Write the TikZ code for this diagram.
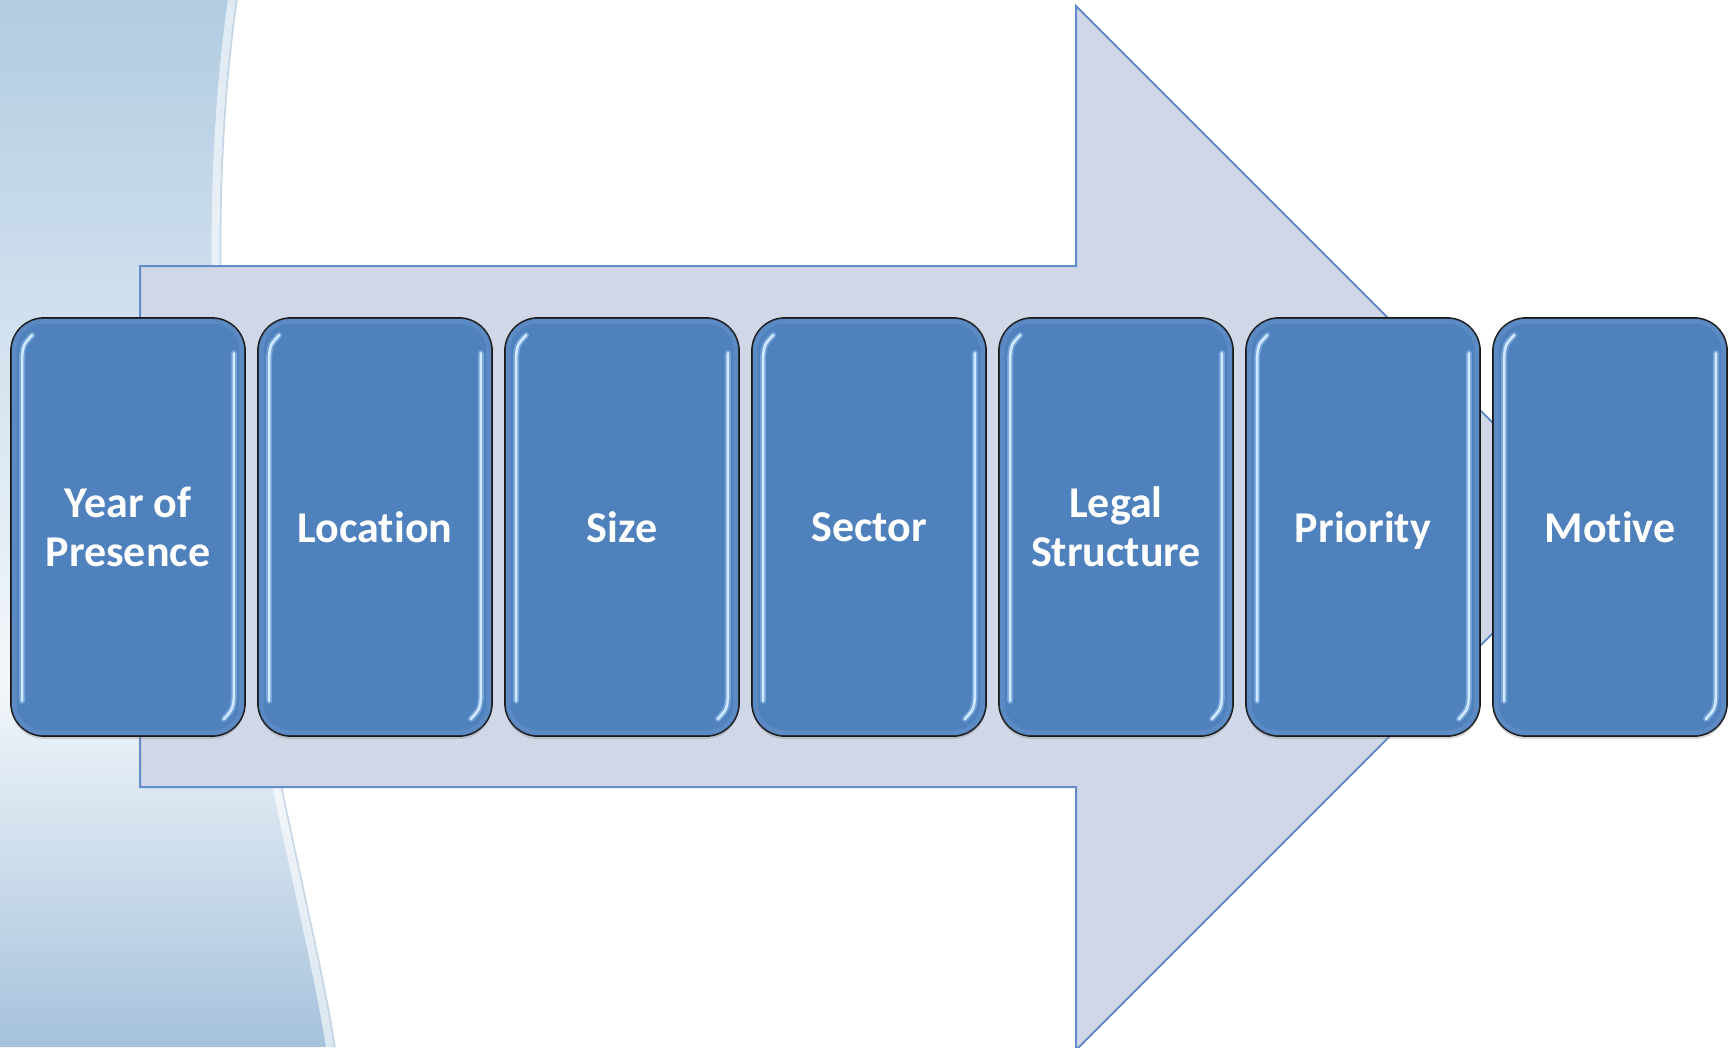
\documentclass[tikz,border=0pt]{standalone}
\usepackage{fontspec}
\setmainfont[Ligatures={NoCommon,NoRare}]{Carlito}
\usetikzlibrary{positioning,shadows}
\definecolor{stageblue}{RGB}{79,129,189}
\definecolor{stageedge}{RGB}{25,25,25}
\definecolor{glossline}{RGB}{208,234,255}
\definecolor{glossglow}{RGB}{135,178,228}
\definecolor{bevel}{RGB}{104,148,206}
\definecolor{arrowfill}{RGB}{208,216,232}
\definecolor{arrowline}{RGB}{100,140,200}
\definecolor{swtop}{RGB}{178,204,226}
\definecolor{swmid}{RGB}{243,247,250}
\definecolor{swbot}{RGB}{166,194,220}
\definecolor{swedge}{RGB}{200,215,230}
\begin{document}
\begin{tikzpicture}[x=1pt, y=-1pt, node distance=247pt,
                    stage/.style = {draw=stageedge, line width=1.8pt, fill=stageblue,
                                    rounded corners=33pt, minimum width=234pt, minimum height=418pt,
                                    text=white, align=center, text depth=0pt,
                                    font=\bfseries\fontsize{44}{49}\selectfont,
                                    drop shadow={shadow xshift=0pt, shadow yshift=-3pt, opacity=.3}},
                    gloss/.style = {draw=glossline, line width=2.5pt, line cap=round,
                                    preaction={draw=glossglow, line width=6pt, line cap=round, opacity=.7}}]
                    \path[use as bounding box] (0,0) rectangle (1731,1047);
                    \clip (0,0) rectangle (1731,1047);

                    % background swoosh
                    \begin{scope}
                    \clip (0,0) -- (237,0) .. controls (212,170) and (215,400) .. (250,620)
                          .. controls (280,800) and (320,950) .. (335,1047) -- (0,1047) -- cycle;
                    \shade[top color=swtop, bottom color=swmid] (0,0) rectangle (400,680);
                    \shade[top color=swmid, bottom color=swbot] (0,680) rectangle (400,1047);
                    \end{scope}
                    \draw[white, line width=8pt, opacity=.6, xshift=-5pt]
                          (237,0) .. controls (212,170) and (215,400) .. (250,620)
                          .. controls (280,800) and (320,950) .. (335,1047);
                    \draw[swedge, line width=1.5pt]
                          (237,0) .. controls (212,170) and (215,400) .. (250,620)
                          .. controls (280,800) and (320,950) .. (335,1047);

                    % big arrow
                    \draw[fill=arrowfill, draw=arrowline, line width=2pt]
                          (140,266) -- (1076,266) -- (1076,6) -- (1598,528)
                          -- (1076,1050) -- (1076,787) -- (140,787) -- cycle;

                    \node[stage] (1) at (128,527) {Year of\\Presence};
                    \node[stage] (2) [right of=1] {Location};
                    \node[stage] (3) [right of=2] {Size};
                    \node[stage] (4) [right of=3] {Sector};
                    \node[stage] (5) [right of=4] {Legal\\Structure};
                    \node[stage] (6) [right of=5] {Priority};
                    \node[stage] (7) [right of=6] {Motive};

                    \foreach \n in {1,...,7} {
                        \draw[bevel, line width=5pt, opacity=.5, rounded corners=29pt]
                              ([xshift=4pt,yshift=-4pt]\n.north west) rectangle ([xshift=-4pt,yshift=4pt]\n.south east);
                        \draw[gloss] ([xshift=12pt,yshift=36pt]\n.south west) -- ([xshift=12pt,yshift=-40pt]\n.north west)
                              .. controls ([xshift=13pt,yshift=-28pt]\n.north west) .. ([xshift=22pt,yshift=-18pt]\n.north west);
                        \draw[gloss] ([xshift=-12pt,yshift=-36pt]\n.north east) -- ([xshift=-12pt,yshift=40pt]\n.south east)
                              .. controls ([xshift=-13pt,yshift=28pt]\n.south east) .. ([xshift=-22pt,yshift=18pt]\n.south east);
                    }
                \end{tikzpicture}
\end{document}
